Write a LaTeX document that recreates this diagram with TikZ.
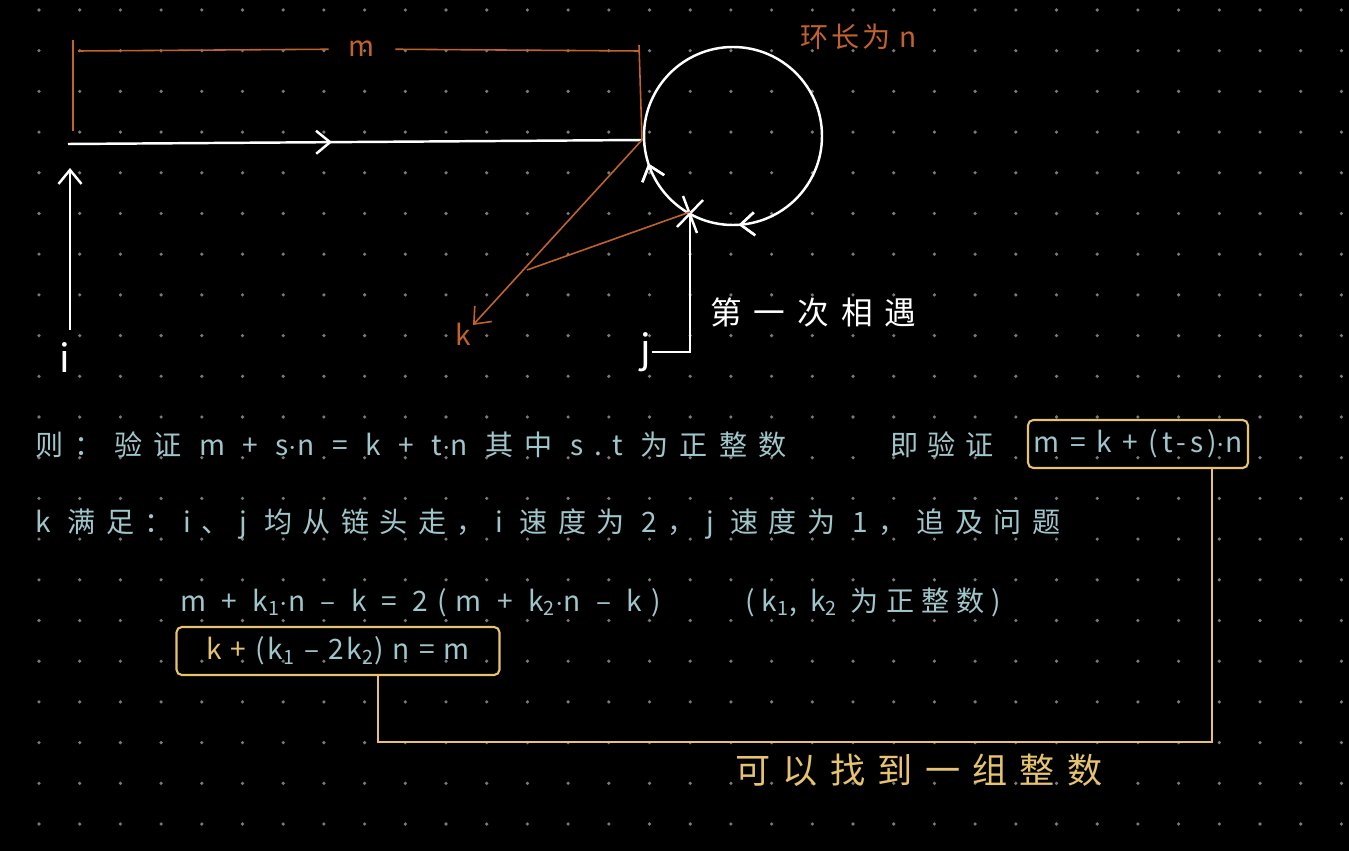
\documentclass[tikz,border=0pt]{standalone}
\usepackage{fontspec}
\newfontfamily\hand{Noto Sans CJK SC}
\usetikzlibrary{arrows.meta, decorations.markings}

\definecolor{chalk}{HTML}{9FC6CB}
\definecolor{rust}{HTML}{C2622C}
\definecolor{gold}{HTML}{E5C36F}
\definecolor{dotgrey}{HTML}{7A7A7A}

\newcommand{\hfont}[2]{\hand\fontsize{#1pt}{#1pt}\selectfont\addfontfeature{LetterSpace=#2}}
\newcommand{\md}{$\cdot$}

\tikzset{
  whiteline/.style={white, line width=1.4pt},
  rustline/.style={rust, line width=0.9pt},
  goldline/.style={gold, line width=0.9pt},
  barb/.style={-{Straight Barb[length=2.8mm,width=4.6mm]}},
  midbarb/.style={postaction={decorate}, decoration={markings,
      mark=at position #1 with {\arrow{Straight Barb[length=2.8mm,width=4.6mm]}}}},
  note/.style={font=\hfont{16}{25}, text=chalk, inner sep=0pt},
  goldbox/.style={draw=gold, line width=1.2pt, rounded corners=3pt, inner sep=0pt},
}

\begin{document}
\begin{tikzpicture}[x=0.02cm, y=-0.02cm]
  \useasboundingbox (0,0) rectangle (1349,851);
  \fill[black] (0,0) rectangle (1349,851);
  \foreach \i in {0,...,32}
    \foreach \j in {0,...,20}
      \fill[dotgrey] (39+40.7*\i, 10+40.7*\j) circle[radius=1.8];

  % list and ring
  \coordinate (ring) at (733,136);
  \coordinate (start) at (68,144);
  \coordinate (entry) at (642,140);
  \coordinate (meet) at (690,212);
  \coordinate (bend) at (527,270);
  \coordinate (ktip) at (473,325);
  \draw[whiteline, midbarb=0.46] (start) -- (entry);
  \draw[whiteline] (ring) circle[radius=89];
  \draw[whiteline, white, midbarb=0.24, midbarb=0.45, draw=none] (ring) circle[radius=89];

  \node[note, text=white, font=\hfont{22}{0}] (ilabel) at (65,358) {i};
  \coordinate (ifoot) at (70,330);
  \coordinate (ihead) at (70,168);
  \draw[whiteline, barb] (ifoot) -- (ihead);

  \node[note, text=white, font=\hfont{22}{0}] (jlabel) at (646,352) {j};
  \draw[whiteline] (jlabel.east) -| (meet);
  \draw[whiteline] (meet) ++(-7,-16) -- ++(14,37);
  \draw[whiteline] (meet) ++(13,-12) -- ++(-26,27);

  % m, k
  \node[note, text=rust, inner sep=0.4cm] (mlabel) at (362,49) {m};
  \coordinate (dimL) at (78,51);
  \coordinate (dimR) at (639,51);
  \draw[rustline] (73,40) -- (73,131);
  \draw[rustline] (dimL) -- (mlabel);
  \draw[rustline] (mlabel) -- (dimR);
  \draw[rustline] (639,45) -- (entry);
  \draw[rustline, barb] (entry) -- (ktip);
  \draw[rustline] (bend) -- (meet);
  \node[note, text=rust] (klabel) at (463,334) {k};

  \node[note, text=rust, font=\hfont{16}{10}, anchor=base west] (ringlen) at (800,48) {环长为 n};
  \node[note, text=white, font=\hfont{18}{38}, anchor=base west] (first) at (710,324) {第一次相遇};

  % derivation
  \node[note, font=\hfont{16}{40}, anchor=base west] (rule) at (35,455) {则：验证 m + s\md n = k + t\md n 其中 s.t 为正整数};
  \node[note, font=\hfont{16}{33}, anchor=base west] (ie) at (890,455) {即验证};
  \node[note, goldbox, font=\hfont{16}{15}, minimum width=4.4cm, minimum height=0.96cm] (box1) at (1138,444) {m = k + (t-s)\md n};
  \node[note, font=\hfont{16}{37}, anchor=base west] (cond) at (35,532) {k 满足：i、j 均从链头走，i 速度为 2，j 速度为 1，追及问题};
  \node[note, font=\hfont{16}{32}, anchor=base west] (eq) at (180,611) {m + k\textsubscript{1}\md n – k = 2(m + k\textsubscript{2}\md n – k)};
  \node[note, anchor=base west] (ints) at (745,611) {(k\textsubscript{1}, k\textsubscript{2} 为正整数)};
  \node[note, goldbox, font=\hfont{16}{10}, minimum width=6.46cm, minimum height=0.96cm] (box2) at (338,651) {{\color{gold}k +} (k\textsubscript{1} – 2k\textsubscript{2}) n = m};

  \coordinate (c1) at (378,742);
  \coordinate (c2) at (1212,742);
  \draw[goldline] (c1 |- box2.south) -- (c1) -- (c2) -- (c2 |- box1.south);
  \node[note, text=gold, font=\hfont{20}{35}, anchor=base west] (found) at (735,783) {可以找到一组整数};
\end{tikzpicture}
\end{document}
